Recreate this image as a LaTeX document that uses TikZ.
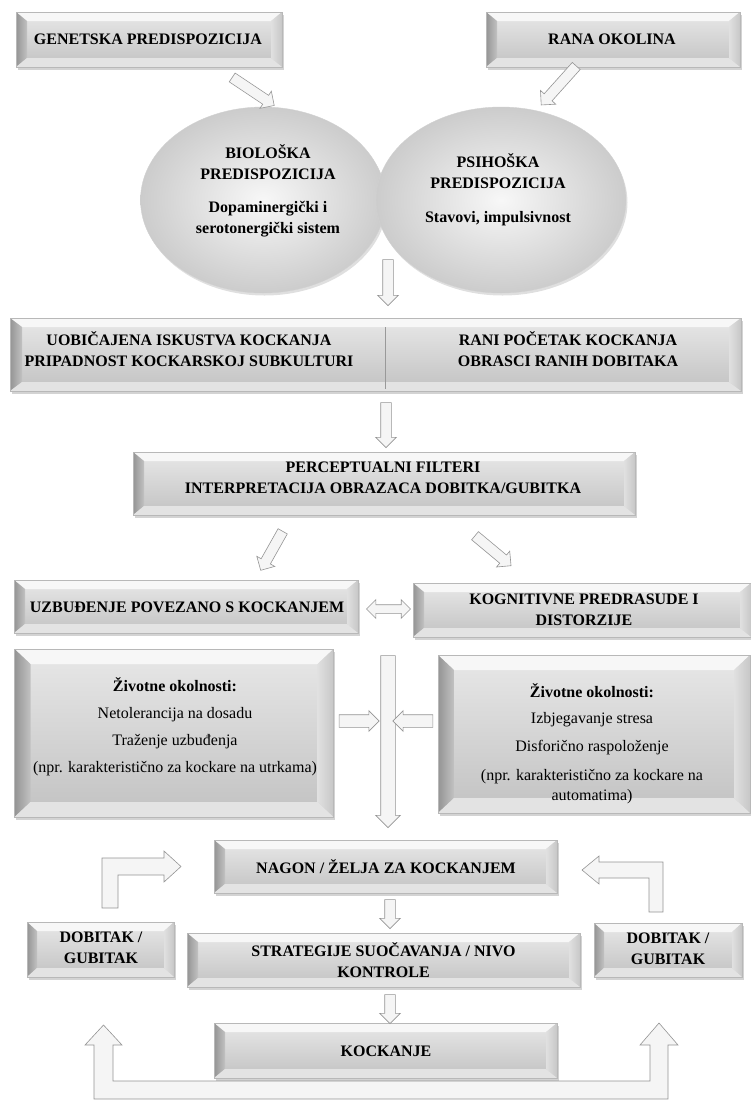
\documentclass[tikz,border=0pt]{standalone}
\usepackage{fontspec}
\setmainfont{Liberation Serif}
\usetikzlibrary{shapes.arrows,shapes.geometric,shadows,calc}

\newcommand\bevelpic{%
  \coordinate (bNW) at (path picture bounding box.north west);
  \coordinate (bNE) at (path picture bounding box.north east);
  \coordinate (bSW) at (path picture bounding box.south west);
  \coordinate (bSE) at (path picture bounding box.south east);
  \fill[black!3] (bNW) -- (bNE) -- ([shift={(-\bevx,-\bevy)}]bNE) -- ([shift={(\bevx,-\bevy)}]bNW) -- cycle;
  \shade[left color=black!42, right color=black!24] (bNW) -- ([shift={(\bevx,-\bevy)}]bNW) -- ([shift={(\bevx,\bevy)}]bSW) -- (bSW) -- cycle;
  \shade[left color=black!12, right color=black!22] (bNE) -- ([shift={(-\bevx,-\bevy)}]bNE) -- ([shift={(-\bevx,\bevy)}]bSE) -- (bSE) -- cycle;
  \fill[black!11] (bSW) -- ([shift={(\bevx,\bevy)}]bSW) -- ([shift={(-\bevx,\bevy)}]bSE) -- (bSE) -- cycle;
}
\newcommand\barrow[3][]{%
  \path let \p1=($(#3)-(#2)$), \n1={veclen(\x1,\y1)}, \n2={atan2(\y1,\x1)} in
    node[blockarrow, minimum height=\n1, rotate=\n2, #1] at ($(#2)!0.5!(#3)$) {};}

\tikzset{
  bevx/.store in=\bevx, bevy/.store in=\bevy, bevx=11pt, bevy=9pt,
  bbox/.style={rectangle, inner sep=0pt, top color=black!9, bottom color=black!24,
    draw=black!28, line width=0.4pt,
    drop shadow={opacity=0.35, shadow xshift=1.5pt, shadow yshift=-2.5pt},
    path picture={\bevelpic}},
  ell/.style={ellipse, inner sep=0pt, inner color=black!3, outer color=black!20,
    draw=black!18, line width=0.4pt,
    drop shadow={opacity=0.25, shadow xshift=1.5pt, shadow yshift=-2.5pt}},
  btxt/.style={font=\fontsize{16}{21}\selectfont\bfseries, align=center, text=black, inner sep=0pt},
  rtxt/.style={font=\fontsize{16}{21}\selectfont, align=center, text=black, inner sep=0pt},
  blockarrow/.style={single arrow, draw=black!42, fill=black!4, line width=0.6pt,
    inner xsep=0pt, inner ysep=5pt,
    single arrow head extend=5pt, single arrow tip angle=90},
  dblarrow/.style={double arrow, draw=black!42, fill=black!4, line width=0.6pt,
    inner xsep=0pt, inner ysep=4pt,
    double arrow head extend=5pt, double arrow tip angle=90},
  polyarrow/.style={draw=black!42, fill=black!4, line width=0.6pt, line join=miter},
}

\begin{document}
\begin{tikzpicture}[x=1pt,y=-1pt]
\useasboundingbox (0,0) rectangle (751,1101);

% top boxes
\node[bbox, minimum width=266pt, minimum height=55pt] (gen) at (149,39.5) {};
\node[btxt] (genT) at (148,39.5) {GENETSKA PREDISPOZICIJA};
\node[bbox, minimum width=254pt, minimum height=55pt] (rana) at (613,39.5) {};
\node[btxt] (ranaT) at (612,39.5) {RANA OKOLINA};

% ellipses
\node[ell, minimum width=245pt, minimum height=186pt] (bio) at (263,200) {};
\node[ell, minimum width=250pt, minimum height=186pt] (psi) at (501,200) {};
\node[btxt] (bioT) at (268,191) {BIOLOŠKA\\PREDISPOZICIJA\\[12pt]Dopaminergički i\\serotonergički sistem};
\node[btxt] (psiT) at (498,190) {PSIHOŠKA\\PREDISPOZICIJA\\[13pt]Stavovi, impulsivnost};

% experiences box
\node[bbox, bevx=12pt, minimum width=731pt, minimum height=73pt] (exp) at (375.5,354.5) {};
\coordinate (divT) at (385,327);
\coordinate (divB) at (385,389);
\draw[black!40, line width=0.5pt] (divT) -- (divB);
\node[btxt] (expL) at (189,349.5) {UOBIČAJENA ISKUSTVA KOCKANJA\\PRIPADNOST KOCKARSKOJ SUBKULTURI};
\node[btxt] (expR) at (568,349.5) {RANI POČETAK KOCKANJA\\OBRASCI RANIH DOBITAKA};

% perceptual
\node[bbox, minimum width=502pt, minimum height=63pt] (perc) at (384,483.5) {};
\node[btxt] (percT) at (383,478) {PERCEPTUALNI FILTERI\\INTERPRETACIJA OBRAZACA DOBITKA/GUBITKA};

% arousal / cognitive
\node[bbox, minimum width=344pt, minimum height=53pt] (uzb) at (186,606.5) {};
\node[btxt] (uzbT) at (187,607) {UZBUĐENJE POVEZANO S KOCKANJEM};
\node[bbox, minimum width=338pt, minimum height=54pt] (kog) at (582,610) {};
\node[btxt] (kogT) at (584,610) {KOGNITIVNE PREDRASUDE I\\DISTORZIJE};

% life circumstances
\node[bbox, bevx=16pt, bevy=15pt, minimum width=319pt, minimum height=168pt] (zivL) at (174,733) {};
\node[rtxt, font=\fontsize{16}{27}\selectfont] (zivLT) at (175,726.5) {\textbf{Životne okolnosti:}\\Netolerancija na dosadu\\Traženje uzbuđenja\\(npr. karakteristično za kockare na utrkama)};
\node[bbox, bevx=16pt, bevy=15pt, minimum width=312pt, minimum height=158pt] (zivR) at (594,734) {};
\node[rtxt, font=\fontsize{16}{20}\selectfont] (zivRT) at (592,744) {\textbf{Životne okolnosti:}\\[6pt]Izbjegavanje stresa\\[8pt]Disforično raspoloženje\\[9pt](npr. karakteristično za kockare na\\automatima)};

% lower chain
\node[bbox, minimum width=343pt, minimum height=53pt] (nagon) at (385.5,866.5) {};
\node[btxt] (nagonT) at (386,867) {NAGON / ŽELJA ZA KOCKANJEM};
\node[bbox, minimum width=393pt, minimum height=54pt] (strat) at (383.5,960) {};
\node[btxt] (stratT) at (383.5,960) {STRATEGIJE SUOČAVANJA / NIVO\\KONTROLE};
\node[bbox, minimum width=343pt, minimum height=55pt] (kock) at (385.5,1050.5) {};
\node[btxt] (kockT) at (386,1051) {KOCKANJE};
\node[bbox, bevx=10pt, minimum width=147pt, minimum height=55pt] (dobL) at (100.5,949.5) {};
\node[btxt] (dobLT) at (101,948) {DOBITAK /\\GUBITAK};
\node[bbox, bevx=10pt, minimum width=148pt, minimum height=54pt] (dobR) at (668,950) {};
\node[btxt] (dobRT) at (668,949) {DOBITAK /\\GUBITAK};

% arrow end points
\coordinate (a1s) at (230,76);   \coordinate (a1e) at (272,104);
\coordinate (a2s) at (578,64);   \coordinate (a2e) at (543,103);
\coordinate (a3s) at (388,257);  \coordinate (a3e) at (388,303);
\coordinate (a4s) at (386,400);  \coordinate (a4e) at (386,445);
\coordinate (a5s) at (284,529);  \coordinate (a5e) at (262,568);
\coordinate (a6s) at (473,534);  \coordinate (a6e) at (509,564);
\coordinate (a8s) at (388,652);  \coordinate (a8e) at (388,824);
\coordinate (a9s) at (336,721);  \coordinate (a9e) at (376,721);
\coordinate (a10s) at (436,721); \coordinate (a10e) at (396,721);
\coordinate (a11s) at (390,897); \coordinate (a11e) at (390,926);
\coordinate (a12s) at (390,992); \coordinate (a12e) at (390,1021);

\barrow[name=ar1]{a1s}{a1e}
\barrow[name=ar2]{a2s}{a2e}
\barrow[name=ar3]{a3s}{a3e}
\barrow[name=ar4]{a4s}{a4e}
\barrow[name=ar5]{a5s}{a5e}
\barrow[name=ar6]{a6s}{a6e}
\barrow[name=ar8, inner ysep=7pt, single arrow head extend=5pt]{a8s}{a8e}
\barrow[name=ar9, inner ysep=6pt, single arrow head extend=4pt]{a9s}{a9e}
\barrow[name=ar10, inner ysep=6pt, single arrow head extend=4pt]{a10s}{a10e}
\barrow[name=ar11]{a11s}{a11e}
\barrow[name=ar12]{a12s}{a12e}
\node[dblarrow, minimum height=44pt] (ar7) at (388.5,609) {};

% elbow arrows (feedback)
\draw[polyarrow] (102,908) -- (102,858) -- (164,858) -- (164,851) -- (181,866.5) -- (164,882) -- (164,875) -- (118,875) -- (118,908) -- cycle;
\draw[polyarrow] (663,912) -- (663,862) -- (599,862) -- (599,856) -- (582,870) -- (599,884) -- (599,878) -- (649,878) -- (649,912) -- cycle;
\draw[polyarrow] (94,1099) -- (94,1045) -- (85,1045) -- (103.5,1025) -- (122,1045) -- (113,1045) -- (113,1081) -- (650,1081) -- (650,1045) -- (640,1045) -- (659,1023) -- (678,1045) -- (668,1045) -- (668,1099) -- cycle;
\end{tikzpicture}
\end{document}
